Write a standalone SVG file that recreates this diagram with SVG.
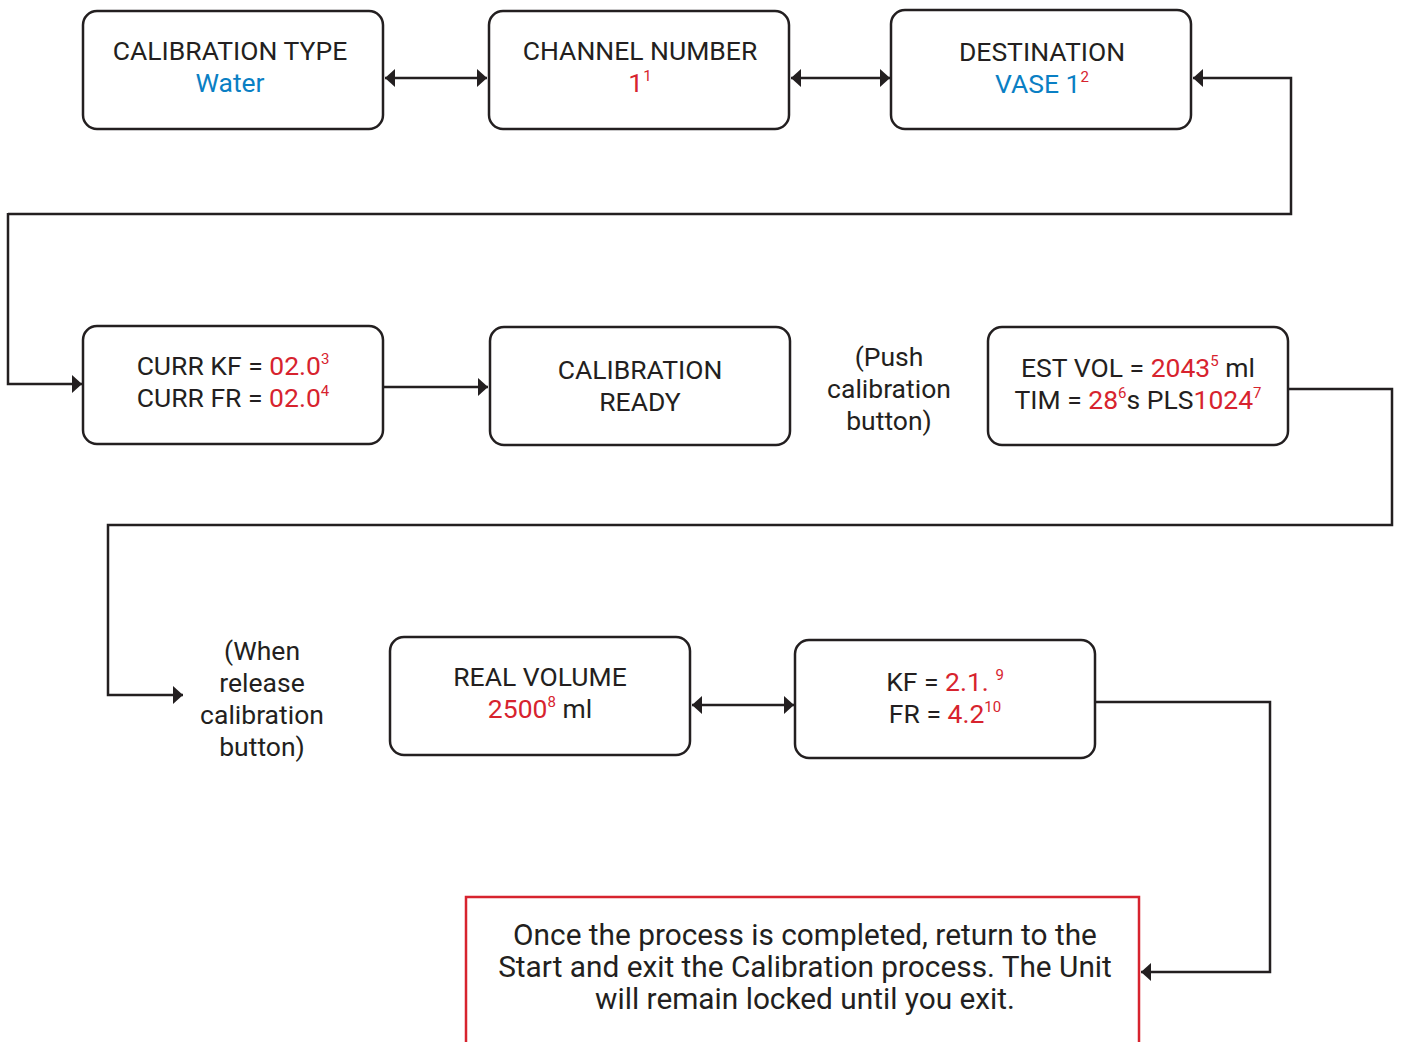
<svg xmlns="http://www.w3.org/2000/svg" width="1402" height="1042" viewBox="0 0 1402 1042">
<defs>
<style>
.box{fill:#fff;stroke:#231f20;stroke-width:2.5}
.red{fill:#fff;stroke:#d7232e;stroke-width:2.5}
.t{font-family:Roboto,"Liberation Sans",sans-serif;font-size:26.5px;fill:#231f20;text-anchor:middle}
.big{font-size:29.8px}
.b{fill:#0a7fc4}
.r{fill:#d7232e}
.s{font-size:15px}
.c{fill:none;stroke:#231f20;stroke-width:2.5}
</style>
<marker id="ah" viewBox="0 0 10 18" refX="10" refY="9" markerWidth="10" markerHeight="18" markerUnits="userSpaceOnUse" orient="auto-start-reverse">
<path d="M0,0 L10,9 L0,18 Z" fill="#231f20"/>
</marker>
</defs>
<rect width="1402" height="1042" fill="#fff"/>
<g id="connectors">
<line class="c" x1="385" y1="78" x2="487" y2="78" marker-start="url(#ah)" marker-end="url(#ah)"/>
<line class="c" x1="791" y1="78" x2="890" y2="78" marker-start="url(#ah)" marker-end="url(#ah)"/>
<path class="c" d="M8,214 L1291,214 L1291,78 L1193,78" marker-end="url(#ah)"/>
<path class="c" d="M8,213 L8,384 L82,384" marker-end="url(#ah)"/>
<line class="c" x1="384" y1="387" x2="488" y2="387" marker-end="url(#ah)"/>
<path class="c" d="M1289,389 L1392,389 L1392,525 L108,525 L108,695 L183,695" marker-end="url(#ah)"/>
<line class="c" x1="692" y1="705" x2="794" y2="705" marker-start="url(#ah)" marker-end="url(#ah)"/>
<path class="c" d="M1096,702 L1270,702 L1270,972 L1141,972" marker-end="url(#ah)"/>
</g>
<g id="calibration-type">
<rect class="box" x="83" y="11" width="300" height="118" rx="14"/>
<text class="t" x="230" y="60">CALIBRATION TYPE</text>
<text class="t b" x="230" y="92">Water</text>
</g>
<g id="channel-number">
<rect class="box" x="489" y="11" width="300" height="118" rx="14"/>
<text class="t" x="640" y="60">CHANNEL NUMBER</text>
<text class="t r" x="640" y="92">1<tspan class="s" dy="-11">1</tspan></text>
</g>
<g id="destination">
<rect class="box" x="891" y="10" width="300" height="119" rx="14"/>
<text class="t" x="1042" y="61">DESTINATION</text>
<text class="t" x="1042" y="93"><tspan class="b">VASE 1</tspan><tspan class="s r" dy="-11">2</tspan></text>
</g>
<g id="current-values">
<rect class="box" x="83" y="326" width="300" height="118" rx="14"/>
<text class="t" x="233" y="375">CURR KF = <tspan class="r">02.0</tspan><tspan class="s r" dy="-11">3</tspan></text>
<text class="t" x="233" y="407">CURR FR = <tspan class="r">02.0</tspan><tspan class="s r" dy="-11">4</tspan></text>
</g>
<g id="calibration-ready">
<rect class="box" x="490" y="327" width="300" height="118" rx="14"/>
<text class="t" x="640" y="379">CALIBRATION</text>
<text class="t" x="640" y="411">READY</text>
</g>
<g id="push-note">
<text class="t" x="889" y="366">(Push</text>
<text class="t" x="889" y="398">calibration</text>
<text class="t" x="889" y="430">button)</text>
</g>
<g id="estimate">
<rect class="box" x="988" y="327" width="300" height="118" rx="14"/>
<text class="t" x="1138" y="377">EST VOL = <tspan class="r">2043</tspan><tspan class="s r" dy="-11">5</tspan><tspan dy="11"> ml</tspan></text>
<text class="t" x="1138" y="409">TIM = <tspan class="r">28</tspan><tspan class="s r" dy="-11">6</tspan><tspan dy="11">s PLS</tspan><tspan class="r">1024</tspan><tspan class="s r" dy="-11">7</tspan></text>
</g>
<g id="release-note">
<text class="t" x="262" y="660">(When</text>
<text class="t" x="262" y="692">release</text>
<text class="t" x="262" y="724">calibration</text>
<text class="t" x="262" y="756">button)</text>
</g>
<g id="real-volume">
<rect class="box" x="390" y="637" width="300" height="118" rx="14"/>
<text class="t" x="540" y="686">REAL VOLUME</text>
<text class="t" x="540" y="718"><tspan class="r">2500</tspan><tspan class="s r" dy="-11">8</tspan><tspan dy="11"> ml</tspan></text>
</g>
<g id="kf-fr">
<rect class="box" x="795" y="640" width="300" height="118" rx="14"/>
<text class="t" x="945" y="691">KF = <tspan class="r">2.1. </tspan><tspan class="s r" dy="-11">9</tspan></text>
<text class="t" x="945" y="723">FR = <tspan class="r">4.2</tspan><tspan class="s r" dy="-11">10</tspan></text>
</g>
<g id="final-note">
<rect class="red" x="466" y="897" width="673" height="160"/>
<text class="t big" x="805" y="945">Once the process is completed, return to the</text>
<text class="t big" x="805" y="977">Start and exit the Calibration process. The Unit</text>
<text class="t big" x="805" y="1009">will remain locked until you exit.</text>
</g>
</svg>
